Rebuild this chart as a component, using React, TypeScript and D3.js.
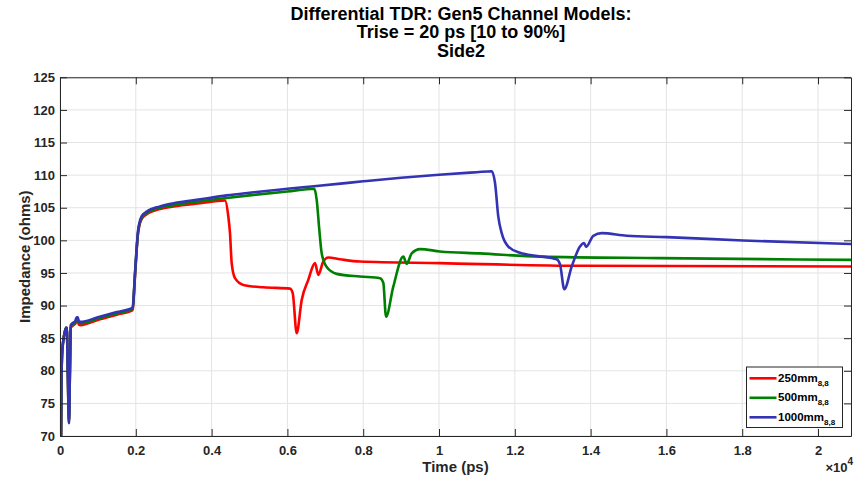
import { useEffect, useRef } from 'react';
import * as d3 from 'd3';

// time (ps), impedance (ohms)
const red250: [number, number][] = [
  [0, 70], [4, 81], [12, 81], [18, 70], [28, 70], [40, 79], [55, 82.5], [80, 84.3], [120, 85.8],
  [160, 86.6], [180, 86.6], [205, 80], [237, 72], [262, 80], [285, 86.6], [330, 86.9], [400, 87.2],
  [440, 87.6], [470, 87.6], [495, 87.1], [540, 87.0], [1000, 87.8], [1500, 88.6], [1918, 89.3],
  [1950, 91.6], [1979, 94.6], [2024, 98.6], [2060, 101.1], [2092, 102.2], [2156, 103.3], [2288, 104.0],
  [2639, 104.8], [3000, 105.2], [3700, 105.7], [4354, 106.1], [4441, 103.65], [4485, 101.1],
  [4530, 96.5], [4617, 94.2], [4836, 93.17], [5364, 92.8], [6069, 92.6], [6140, 91.9], [6245, 85.76],
  [6377, 90.87], [6551, 93.94], [6728, 96.5], [6815, 94.7], [6947, 96.75], [7079, 97.36], [7388, 97.1],
  [7916, 96.75], [10026, 96.5], [13720, 96.1], [20870, 96.0],
];

const green500: [number, number][] = [
  [0, 70], [4, 81], [12, 81], [18, 70], [28, 70], [40, 79], [55, 82.5], [80, 84.3], [120, 85.8],
  [160, 86.6], [180, 86.6], [205, 80], [237, 72], [262, 80], [285, 86.8], [330, 87.1], [400, 87.4],
  [440, 87.9], [470, 87.9], [495, 87.4], [540, 87.3], [1000, 88.0], [1500, 88.8], [1918, 89.5],
  [1950, 91.8], [1979, 94.8], [2024, 98.8], [2060, 101.3], [2092, 102.4], [2156, 103.5], [2288, 104.2],
  [2639, 105.0], [3000, 105.4], [3700, 106.0], [4400, 106.5], [5000, 106.9], [6000, 107.5],
  [6710, 107.9], [6773, 106.2], [6842, 101.6], [6905, 98.0], [7037, 95.9], [7301, 94.86], [7916, 94.45],
  [8443, 94.2], [8530, 93.5], [8602, 88.3], [8794, 92.9], [9058, 97.5], [9148, 96.4], [9280, 98.0],
  [9499, 98.65], [10026, 98.3], [11082, 98.0], [12665, 97.5], [15831, 97.27], [20870, 97.0],
];

const blue1000: [number, number][] = [
  [0, 70], [4, 81], [12, 81], [18, 70], [28, 70], [40, 79], [55, 82.5], [80, 84.3], [120, 85.8],
  [160, 86.6], [180, 86.6], [205, 80], [237, 72], [262, 80], [285, 87], [330, 87.3], [400, 87.6],
  [440, 88.2], [470, 88.2], [495, 87.6], [540, 87.5], [1000, 88.2], [1500, 89.0], [1918, 89.7],
  [1950, 92], [1979, 95], [2024, 99], [2060, 101.5], [2092, 102.6], [2156, 103.7], [2288, 104.4],
  [2639, 105.2], [3000, 105.7], [3700, 106.3], [4400, 106.9], [5000, 107.3], [6000, 107.9],
  [6700, 108.3], [7400, 108.7], [8000, 109.05], [9000, 109.6], [10000, 110.05], [11000, 110.45],
  [11390, 110.6], [11478, 108.8], [11565, 103.6], [11654, 101.1], [11828, 99.05], [12137, 98.1],
  [12600, 97.6], [13105, 97.1], [13193, 96.3], [13306, 92.5], [13501, 96.0], [13720, 99.05],
  [13826, 99.6], [13879, 99.0], [14071, 100.7], [14293, 101.1], [14953, 100.7], [16008, 100.5],
  [18021, 99.97], [20870, 99.45],
];

const seriesNames = ['250mm', '500mm', '1000mm'];
const seriesColors = ['#ff0000', '#008000', '#3333b3'];
const xTicks = [0, 0.2, 0.4, 0.6, 0.8, 1, 1.2, 1.4, 1.6, 1.8, 2]; // x 10^4 ps
const yTicks = [70, 75, 80, 85, 90, 95, 100, 105, 110, 115, 120, 125];
const titleLines = ['Differential TDR: Gen5 Channel Models:', 'Trise = 20 ps [10 to 90%]', 'Side2'];

export default function App() {
  const ref = useRef<SVGSVGElement>(null);

  useEffect(() => {
    const width = 854;
    const height = 479;
    const plot = { left: 60, right: 851, top: 77.3, bottom: 436 };
    const axisColor = '#262626';
    const font = '"Liberation Sans", Arial, Helvetica, sans-serif';

    const svg = d3.select(ref.current);
    svg.selectAll('*').remove();
    svg.attr('width', width).attr('height', height).style('font-family', font);

    svg.append('rect').attr('width', width).attr('height', height).attr('fill', '#fff');

    const x = d3.scaleLinear().domain([0, 20870]).range([plot.left, plot.right]);
    const y = d3.scaleLinear().domain([70, 125]).range([plot.bottom, plot.top]);

    // grid
    const grid = svg.append('g');
    xTicks.forEach((t) => {
      grid.append('line')
        .attr('x1', x(t * 1e4)).attr('x2', x(t * 1e4))
        .attr('y1', plot.top).attr('y2', plot.bottom)
        .attr('stroke', '#e3e3e3').attr('stroke-width', 1);
    });
    yTicks.forEach((v) => {
      grid.append('line')
        .attr('x1', plot.left).attr('x2', plot.right)
        .attr('y1', y(v)).attr('y2', y(v))
        .attr('stroke', '#e3e3e3').attr('stroke-width', 1);
    });

    // lines
    svg.append('clipPath').attr('id', 'plotclip')
      .append('rect')
      .attr('x', plot.left).attr('y', plot.top - 2)
      .attr('width', plot.right - plot.left).attr('height', plot.bottom - plot.top + 2);

    const line = d3.line<[number, number]>()
      .x((d) => x(d[0]))
      .y((d) => y(d[1]))
      .curve(d3.curveMonotoneX);

    const lines = svg.append('g').attr('clip-path', 'url(#plotclip)');
    [red250, green500, blue1000].forEach((data, i) => {
      lines.append('path')
        .attr('d', line(data))
        .attr('fill', 'none')
        .attr('stroke', seriesColors[i])
        .attr('stroke-width', 2.6)
        .attr('stroke-linejoin', 'round');
    });

    // axes (box with inward ticks)
    const axisBottom = d3.axisBottom(x)
      .tickValues(xTicks.map((t) => t * 1e4))
      .tickSizeInner(-7).tickSizeOuter(0).tickPadding(9.5)
      .tickFormat((d) => `${+(+d / 1e4).toFixed(1)}`);
    const axisTop = d3.axisTop(x)
      .tickValues(xTicks.map((t) => t * 1e4))
      .tickSizeInner(-7).tickSizeOuter(0).tickFormat(() => '');
    const axisLeft = d3.axisLeft(y)
      .tickValues(yTicks).tickSizeInner(-7).tickSizeOuter(0).tickPadding(5);
    const axisRight = d3.axisRight(y)
      .tickValues(yTicks).tickSizeInner(-7).tickSizeOuter(0).tickFormat(() => '');

    const styleAxis = (g: d3.Selection<SVGGElement, unknown, null, undefined>) => {
      g.select('.domain').attr('stroke', axisColor).attr('stroke-width', 1);
      g.selectAll('.tick line').attr('stroke', axisColor).attr('stroke-width', 1);
      g.selectAll('.tick text')
        .attr('fill', axisColor)
        .style('font-family', font)
        .style('font-size', '13px')
        .style('font-weight', 'bold');
    };

    svg.append('g').attr('transform', `translate(0,${plot.bottom})`).call(axisBottom).call(styleAxis);
    svg.append('g').attr('transform', `translate(0,${plot.top})`).call(axisTop).call(styleAxis);
    svg.append('g').attr('transform', `translate(${plot.left},0)`).call(axisLeft).call(styleAxis);
    svg.append('g').attr('transform', `translate(${plot.right},0)`).call(axisRight).call(styleAxis);

    // axis labels
    svg.append('text')
      .attr('x', (plot.left + plot.right) / 2).attr('y', 472)
      .attr('text-anchor', 'middle')
      .attr('fill', axisColor)
      .style('font-size', '15px').style('font-weight', 'bold')
      .text('Time (ps)');

    const exp = svg.append('text')
      .attr('x', 853).attr('y', 472)
      .attr('text-anchor', 'end')
      .attr('fill', axisColor)
      .style('font-size', '13px').style('font-weight', 'bold');
    exp.append('tspan').text('\u00d710');
    exp.append('tspan').attr('dy', -7).style('font-size', '10px').text('4');

    svg.append('text')
      .attr('transform', `translate(30,${(plot.top + plot.bottom) / 2}) rotate(-90)`)
      .attr('text-anchor', 'middle')
      .attr('fill', axisColor)
      .style('font-size', '15px').style('font-weight', 'bold')
      .text('Impedance (ohms)');

    // title
    titleLines.forEach((t, i) => {
      svg.append('text')
        .attr('x', 461).attr('y', 19.5 + i * 18.5)
        .attr('text-anchor', 'middle')
        .attr('fill', '#000')
        .style('font-size', '18px').style('font-weight', 'bold')
        .text(t);
    });

    // legend
    const legend = svg.append('g').attr('transform', 'translate(746.5,367)');
    legend.append('rect')
      .attr('width', 96).attr('height', 60.5)
      .attr('fill', '#fff').attr('stroke', axisColor).attr('stroke-width', 1);
    seriesNames.forEach((name, i) => {
      const row = legend.append('g').attr('transform', `translate(0,${11.3 + i * 19.5})`);
      row.append('line')
        .attr('x1', 3).attr('x2', 30)
        .attr('stroke', seriesColors[i]).attr('stroke-width', 2.6);
      const label = row.append('text')
        .attr('x', 31.5).attr('y', 3.5)
        .attr('fill', '#000')
        .style('font-size', '11.5px').style('font-weight', 'bold');
      label.append('tspan').text(name);
      label.append('tspan').attr('dy', 4).style('font-size', '8px').text('8,8');
    });
  }, []);

  return (
    <>
      <style>{'body{margin:0}'}</style>
      <svg ref={ref} style={{ display: 'block' }} />
    </>
  );
}
